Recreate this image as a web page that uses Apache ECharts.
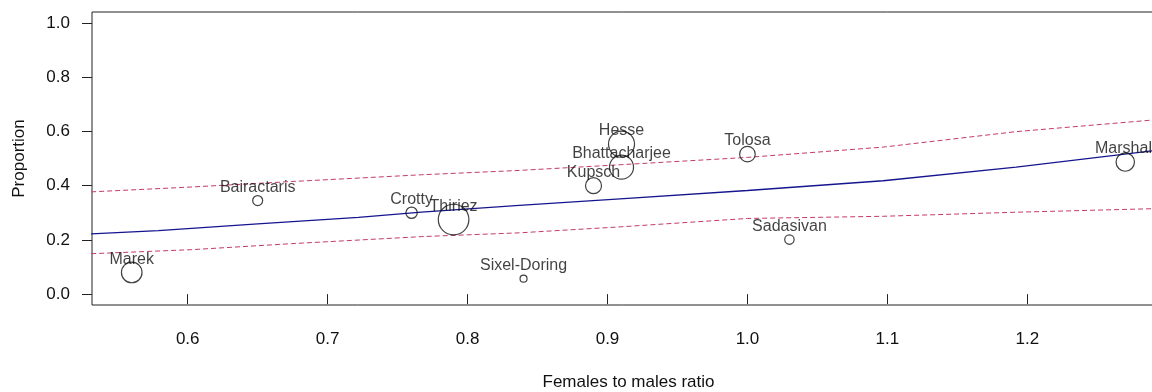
<!DOCTYPE html>
<html>
<head>
<meta charset="utf-8">
<script src="https://cdn.jsdelivr.net/npm/echarts@6/dist/echarts.min.js"></script>
<style>
  html, body { margin: 0; padding: 0; background: #fff; }
  #chart { width: 1152px; height: 392px; }
</style>
</head>
<body>
<div id="chart"></div>
<script>
// ---- data ----
const studies = ['Marek', 'Bairactaris', 'Crotty', 'Thiriez', 'Sixel-Doring', 'Kupsch', 'Hesse', 'Bhattacharjee', 'Tolosa', 'Sadasivan', 'Marshall'];
const ratio = [0.56, 0.65, 0.76, 0.79, 0.84, 0.89, 0.91, 0.91, 1.00, 1.03, 1.27];
const proportion = [0.08, 0.345, 0.30, 0.275, 0.057, 0.40, 0.553, 0.468, 0.516, 0.201, 0.487];
const studyWeight = [10.3, 5.0, 5.7, 15.3, 3.5, 8.0, 13.0, 12.0, 7.8, 4.7, 9.2];

const fitX = [0.531, 0.579, 0.650, 0.722, 0.767, 0.837, 0.909, 1.000, 1.097, 1.192, 1.290];
const fitY = [0.222, 0.234, 0.259, 0.283, 0.302, 0.327, 0.351, 0.382, 0.418, 0.468, 0.529];
const bandX = [0.531, 0.603, 0.674, 0.767, 0.837, 0.909, 1.000, 1.097, 1.192, 1.290];
const upperY = [0.377, 0.395, 0.415, 0.440, 0.456, 0.477, 0.504, 0.542, 0.599, 0.642];
const lowerY = [0.149, 0.164, 0.186, 0.212, 0.226, 0.248, 0.279, 0.287, 0.302, 0.315];

const xTicks = [0.6, 0.7, 0.8, 0.9, 1.0, 1.1, 1.2];
const yTicks = [0.0, 0.2, 0.4, 0.6, 0.8, 1.0];

const FONT = '"Liberation Sans", Arial, sans-serif';
const chart = echarts.init(document.getElementById('chart'), null, { renderer: 'canvas' });

const zip = (a, b) => a.map((v, i) => [v, b[i]]);

chart.setOption({
  animation: false,
  backgroundColor: '#ffffff',
  textStyle: { fontFamily: FONT },
  grid: {
    left: 92, top: 12, bottom: 87, right: -13,
    outerBoundsMode: 'none',
    containLabel: false,
    show: true, borderColor: '#222', borderWidth: 1, backgroundColor: 'transparent'
  },
  xAxis: {
    type: 'value',
    min: 0.5316, max: 1.2984,
    name: 'Females to males ratio',
    nameLocation: 'middle',
    nameGap: 69,
    nameTextStyle: { fontSize: 17, color: '#111', fontFamily: FONT },
    axisLine: { show: false },
    splitLine: { show: false },
    axisTick: { show: true, length: 10, lineStyle: { color: '#222', width: 1 }, customValues: xTicks },
    axisLabel: {
      fontSize: 17, color: '#111', margin: 26, fontFamily: FONT,
      customValues: xTicks,
      formatter: v => Number(v).toFixed(1)
    }
  },
  yAxis: {
    type: 'value',
    min: -0.04, max: 1.04,
    name: 'Proportion',
    nameLocation: 'middle',
    nameGap: 64,
    nameTextStyle: { fontSize: 17, color: '#111', fontFamily: FONT },
    axisLine: { show: false },
    splitLine: { show: false },
    axisTick: { show: true, length: 10, lineStyle: { color: '#222', width: 1 }, customValues: yTicks },
    axisLabel: {
      fontSize: 17, color: '#111', margin: 22, fontFamily: FONT,
      customValues: yTicks,
      formatter: v => Number(v).toFixed(1)
    }
  },
  series: [
    {
      name: 'upper', type: 'line', data: zip(bandX, upperY),
      showSymbol: false, symbol: 'none', smooth: false,
      lineStyle: { color: '#c23a6b', width: 1, type: [5, 3] }, z: 2
    },
    {
      name: 'lower', type: 'line', data: zip(bandX, lowerY),
      showSymbol: false, symbol: 'none', smooth: false,
      lineStyle: { color: '#c23a6b', width: 1, type: [5, 3] }, z: 2
    },
    {
      name: 'fit', type: 'line', data: zip(fitX, fitY),
      showSymbol: false, symbol: 'none', smooth: false,
      lineStyle: { color: '#15158f', width: 1.3 }, z: 3
    },
    {
      name: 'studies', type: 'scatter',
      data: ratio.map((x, i) => ({ name: studies[i], value: [x, proportion[i], studyWeight[i]] })),
      symbol: 'circle',
      symbolSize: d => d[2] * 2,
      itemStyle: { color: 'rgba(255,255,255,0)', borderColor: '#111', borderWidth: 1.2 },
      z: 4
    },
    {
      name: 'labels', type: 'scatter',
      data: ratio.map((x, i) => ({ name: studies[i], value: [x, proportion[i]] })),
      symbol: 'circle',
      symbolSize: 0.5,
      itemStyle: { color: 'rgba(255,255,255,0)' },
      label: {
        show: true, position: 'top', distance: 5,
        formatter: p => p.name,
        fontSize: 16, color: '#111', fontFamily: FONT
      },
      z: 5
    }
  ]
});
</script>
</body>
</html>
